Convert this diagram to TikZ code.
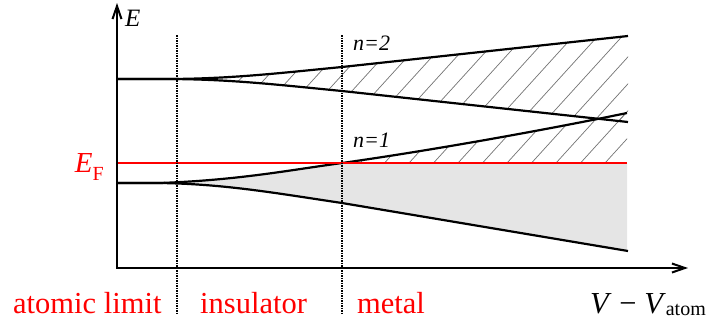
\documentclass[tikz,border=0pt]{standalone}
\usepackage{fontspec}
\setmainfont{Liberation Serif}
\usetikzlibrary{arrows.meta}
\begin{document}
\begin{tikzpicture}[x=1pt,y=-1pt,
  axis/.style={line width=2pt},
  band/.style={line width=2.2pt, line join=round},
  fermi/.style={line width=2pt, red},
  regline/.style={line width=2.2pt, dash pattern=on 1.6pt off 0.9pt},
  hatchline/.style={line width=0.7pt, black!55},
  greyfill/.style={fill=black!10},
  lbl/.style={font=\fontsize{30.5}{30.5}\selectfont, red, anchor=base west, inner sep=0pt},
  small/.style={font=\fontsize{22}{22}\selectfont, anchor=base west, inner sep=0pt}
]
\useasboundingbox (0,0) rectangle (708,325);
% key coordinates
\coordinate (O) at (117,268);
\coordinate (Ytip) at (117,3);
\coordinate (Xtip) at (688,268);
\coordinate (FL) at (117,163);
\coordinate (FR) at (627,163);
\coordinate (D1t) at (177,35);
\coordinate (D1b) at (177,313);
\coordinate (D2t) at (342,35);
\coordinate (D2b) at (342,313);

% grey filled region (n=1 below E_F)
\fill[greyfill] (160,183) .. controls (240,180) and (290,170) .. (342,163)
  -- (627,163) -- (627,251) -- (342,203) .. controls (280,193) and (230,184) .. (160,183) -- cycle;

% hatching n=2 band
\begin{scope}
\clip (165,79) .. controls (230,79) and (280,73) .. (342,67) -- (628,36)
  -- (628,122) -- (342,91) .. controls (280,85) and (230,79) .. (165,79) -- cycle;
\foreach \k in {-2,...,22} {
  \draw[hatchline] ({605-24.5*\k-40},{163+44}) -- ({605-24.5*\k+200},{163-220});
}
\end{scope}
% hatching n=1 above E_F
\begin{scope}
\clip (342,163) .. controls (420,152) and (530,133) .. (627,113) -- (627,163) -- cycle;
\foreach \k in {-2,...,22} {
  \draw[hatchline] ({605-24.5*\k-40},{163+44}) -- ({605-24.5*\k+200},{163-220});
}
\end{scope}

% band edges
\draw[band] (117,79) -- (165,79) .. controls (230,79) and (280,73) .. (342,67) -- (628,36);
\draw[band] (117,79) -- (165,79) .. controls (230,79) and (280,85) .. (342,91) -- (628,122);
\draw[band] (117,183) -- (160,183) .. controls (240,180) and (290,170) .. (342,163)
  .. controls (420,152) and (530,133) .. (627,113);
\draw[band] (117,183) -- (160,183) .. controls (225,184) and (275,193) .. (342,203) -- (628,251);

% Fermi level
\draw[fermi] (FL) -- (FR);

% regime separators
\draw[regline] (D1t) -- (D1b);
\draw[regline] (D2t) -- (D2b);

% axes
\draw[axis, {Straight Barb[length=13pt,width=9pt]}-{Straight Barb[length=13pt,width=9pt]}] (Ytip) -- (O) -- (Xtip);

% labels
\node[small, font=\fontsize{25}{25}\selectfont] (lE) at (125,26) {\textit{E}};
\node[red, anchor=base east, inner sep=0pt, font=\fontsize{29}{29}\selectfont] (lEF) at (104,172)
  {\textit{E}\raisebox{-8pt}{\fontsize{20}{20}\selectfont F}};
\node[small] (n2) at (353,50) {\textit{n=2}};
\node[small] (n1) at (353,147) {\textit{n=1}};
\node[lbl] (lA) at (13,313) {atomic limit};
\node[lbl] (lI) at (200,313) {insulator};
\node[lbl] (lM) at (357,313) {metal};
\node[lbl, black, anchor=base east] (lV) at (706,313)
  {\textit{V} − \textit{V}\raisebox{-2pt}{\fontsize{20}{20}\selectfont atom}};
\end{tikzpicture}
\end{document}
